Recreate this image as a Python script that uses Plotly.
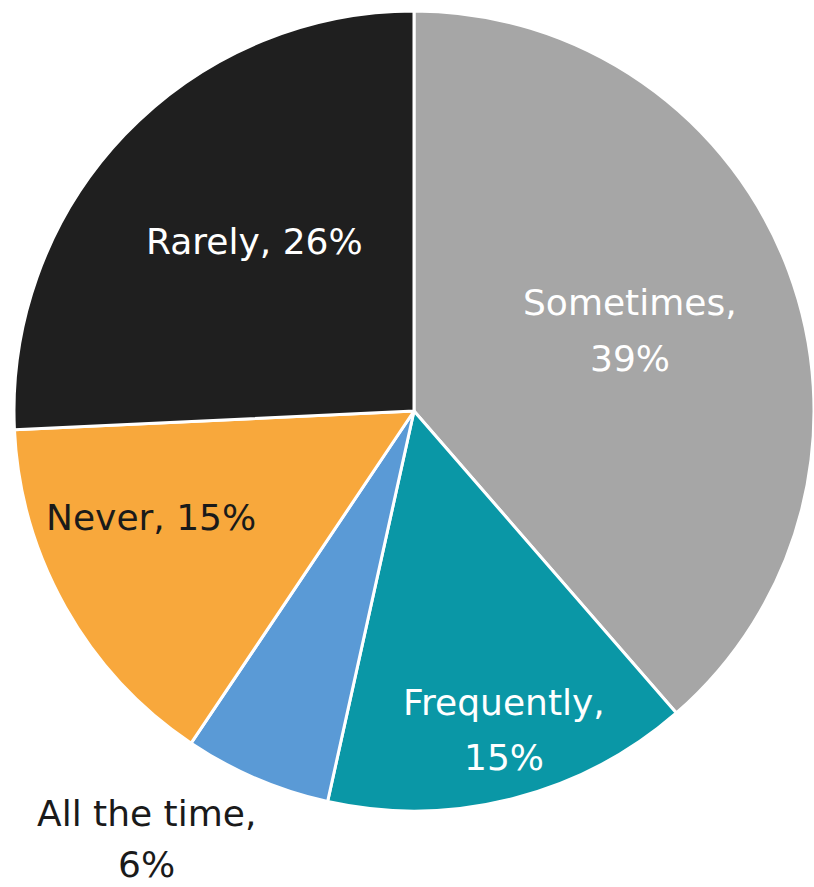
import plotly.graph_objects as go

categories = ["Sometimes", "Frequently", "All the time", "Never", "Rarely"]
values = [39, 15, 6, 15, 26]
colors = ["#a6a6a6", "#0a97a6", "#5a9ad6", "#f8a83c", "#1f1f1f"]
label_lines = [["Sometimes,", "39%"], ["Frequently,", "15%"], ["All the time,", "6%"], ["Never, 15%"], ["Rarely, 26%"]]
label_colors = ["white", "white", "#1a1a1a", "#1a1a1a", "white"]
# label anchor (paper px) for first line, and line step per label
label_pos = [(630, 303), (504, 702), (146, 813), (151, 517), (254, 241)]
line_steps = [55, 55, 51, 55, 55]

W, H = 814, 887
fig = go.Figure(go.Pie(
    labels=categories, values=values, sort=False, direction="clockwise", rotation=0,
    marker=dict(colors=colors, line=dict(color="white", width=3)),
    textinfo="none", hoverinfo="label+percent",
    domain=dict(x=[14 / W, 1], y=[(H - 811) / H, (H - 11) / H]),
    showlegend=False,
))

anns = []
for lines, col, (px, py), step in zip(label_lines, label_colors, label_pos, line_steps):
    for i, ln in enumerate(lines):
        anns.append(dict(x=px / W, y=1 - (py + i * step) / H, xref="paper", yref="paper",
                         text=ln, showarrow=False, xanchor="center", yanchor="middle",
                         font=dict(family="DejaVu Sans", size=36, color=col)))

fig.update_layout(width=W, height=H, margin=dict(l=0, r=0, t=0, b=0),
                  paper_bgcolor="white", plot_bgcolor="white", annotations=anns)
fig.write_html("out.html", config={"displayModeBar": False},
               post_script="document.body.style.margin='0';document.body.style.overflow='hidden';")
